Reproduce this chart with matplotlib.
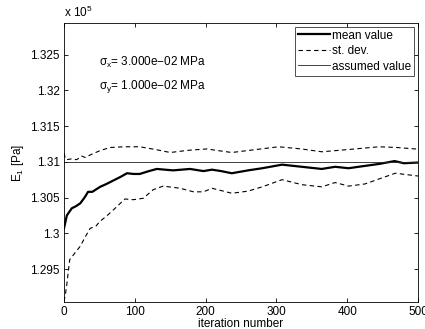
import numpy as np
import matplotlib
matplotlib.use("Agg")
import matplotlib.pyplot as plt

plt.rcParams['font.family'] = ['Liberation Sans', 'DejaVu Sans']
plt.rcParams['font.size'] = 8.5
plt.rcParams['mathtext.fontset'] = 'custom'
plt.rcParams['mathtext.rm'] = 'Liberation Sans'
plt.rcParams['mathtext.it'] = 'Liberation Sans'

# values in units of 1e5 Pa
it_mean = [0, 4, 11, 17, 23, 29, 34, 40, 51, 60, 72, 80, 89, 98, 107, 120, 131, 154, 178, 197,
           209, 222, 237, 260, 280, 308, 336, 364, 383, 402, 416, 445, 467, 480, 501]
mean_val = [1.3007, 1.3025, 1.3035, 1.3038, 1.3042, 1.3050, 1.3058, 1.3058, 1.3065, 1.3069,
            1.3075, 1.3079, 1.3084, 1.3083, 1.3083, 1.3087, 1.3090, 1.3088, 1.3090, 1.3087,
            1.3089, 1.3087, 1.3084, 1.3088, 1.3091, 1.3096, 1.3093, 1.3090, 1.3093, 1.3091,
            1.3093, 1.3097, 1.3101, 1.3098, 1.3099]

it_upper = [0, 2, 4, 10, 18, 25, 30, 40, 52, 65, 85, 107, 130, 150, 175, 202,
            215, 237, 270, 303, 335, 364, 400, 445, 470, 496, 501]
upper_val = [1.3112, 1.3104, 1.3103, 1.3104, 1.3103, 1.3108, 1.3106, 1.3111, 1.3116, 1.3120,
             1.3121, 1.3121, 1.3117, 1.3113, 1.3116, 1.3118,
             1.3116, 1.3113, 1.3117, 1.3121, 1.3118, 1.3114, 1.3117, 1.3121, 1.3120, 1.3118, 1.3118]

it_lower = [0, 2, 4, 8, 15, 23, 30, 37, 45, 51, 60, 70, 86, 98, 112, 126, 140, 164, 183, 197,
            209, 237, 260, 280, 308, 336, 364, 383, 402, 425, 445, 468, 501]
lower_val = [1.2905, 1.2915, 1.2929, 1.2963, 1.2972, 1.2982, 1.2995, 1.3007, 1.3010, 1.3017,
             1.3024, 1.3033, 1.3048, 1.3047, 1.3049, 1.3061, 1.3066, 1.3063, 1.3058, 1.3058,
             1.3063, 1.3056, 1.3059, 1.3065, 1.3075, 1.3068, 1.3065, 1.3071, 1.3066, 1.3069,
             1.3076, 1.3084, 1.3080]

assumed = 1.31
n_iter = 500

fig = plt.figure(figsize=(4.25, 3.29), dpi=100)
ax = fig.add_axes([0.1506, 0.0821, 0.8329, 0.8479])

ax.plot(it_mean, mean_val, color='black', lw=1.6, label='mean value')
ax.plot(it_upper, upper_val, color='black', lw=0.8, ls=(0, (4, 3)), label='st. dev.')
ax.plot(it_lower, lower_val, color='black', lw=0.8, ls=(0, (4, 3)))
ax.plot([0, n_iter], [assumed, assumed], color='#222222', lw=0.6, label='assumed value')

ax.set_xlim(0, n_iter)
ax.set_ylim(1.2904, 1.3294)
ax.set_xticks([0, 100, 200, 300, 400, 500])
ax.set_yticks([1.295, 1.3, 1.305, 1.31, 1.315, 1.32, 1.325])
ax.set_yticklabels(['1.295', '1.3', '1.305', '1.31', '1.315', '1.32', '1.325'])
ax.tick_params(direction='in', top=True, right=True, length=3, width=0.6, labelsize=8.5, pad=3)
for s in ax.spines.values():
    s.set_linewidth(0.6)

ax.set_xlabel('iteration number', labelpad=0)
ax.set_ylabel('E$_1$ [Pa]', labelpad=3)
ax.text(0.0, 1.01, 'x 10$^5$', transform=ax.transAxes, ha='left', va='bottom', fontsize=8.5)

ax.text(0.1, 0.857, r'$\sigma_x$= 3.000e$-$02 MPa', transform=ax.transAxes, va='center')
ax.text(0.1, 0.774, r'$\sigma_y$= 1.000e$-$02 MPa', transform=ax.transAxes, va='center')

leg = ax.legend(loc='upper right', frameon=True, fancybox=False,
                borderpad=0.25, labelspacing=0.3, handlelength=2.7, handletextpad=0.2,
                borderaxespad=0.3)
leg.get_frame().set_edgecolor('black')
leg.get_frame().set_linewidth(0.6)

fig.savefig('out.png', dpi=100)
